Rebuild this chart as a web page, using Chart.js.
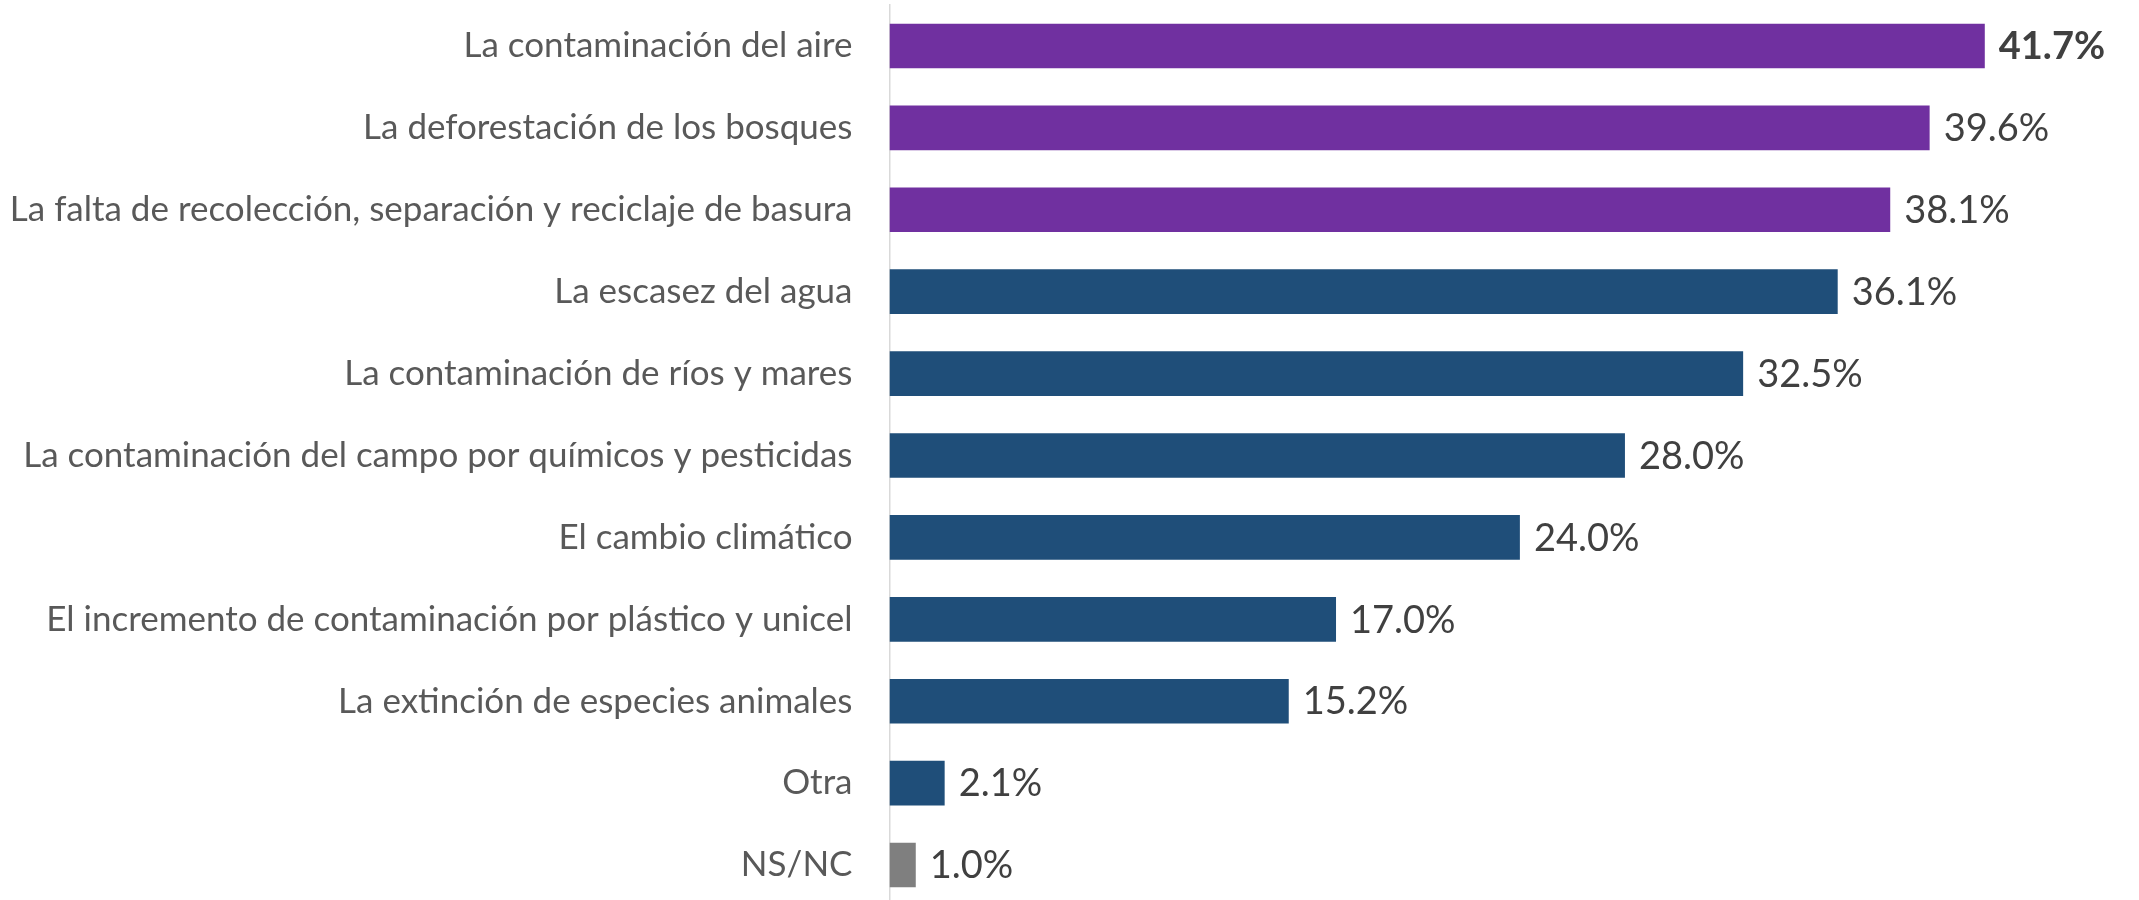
<!DOCTYPE html>
<html>
<head>
<meta charset="utf-8">
<script src="https://cdn.jsdelivr.net/npm/chart.js@4"></script>
<style>
  html, body { margin: 0; padding: 0; background: #fff; overflow: hidden; }
  #wrap { width: 2139px; height: 906px; position: relative; }
</style>
</head>
<body>
<div id="wrap"><canvas id="chart"></canvas></div>
<script>
// categories (top to bottom)
const categories = [
  'La contaminación del aire',
  'La deforestación de los bosques',
  'La falta de recolección, separación y reciclaje de basura',
  'La escasez del agua',
  'La contaminación de ríos y mares',
  'La contaminación del campo por químicos y pesticidas',
  'El cambio climático',
  'El incremento de contaminación por plástico y unicel',
  'La extinción de especies animales',
  'Otra',
  'NS/NC'
];
const values = [41.7, 39.6, 38.1, 36.1, 32.5, 28.0, 24.0, 17.0, 15.2, 2.1, 1.0];
const barColors = ['#7030A0', '#7030A0', '#7030A0',
  '#1F4E79', '#1F4E79', '#1F4E79', '#1F4E79', '#1F4E79', '#1F4E79', '#1F4E79',
  '#7F7F7F'];

const FONT = 'Lato, "Open Sans", sans-serif';

// value labels at the end of each bar
const valueLabels = {
  id: 'valueLabels',
  afterDatasetsDraw(chart) {
    const ctx = chart.ctx;
    const meta = chart.getDatasetMeta(0);
    ctx.save();
    ctx.textBaseline = 'middle';
    ctx.textAlign = 'left';
    ctx.fillStyle = '#404040';
    meta.data.forEach((bar, i) => {
      ctx.font = (i === 0 ? 'bold ' : '') + '38px ' + FONT;
      ctx.fillText(values[i].toFixed(1) + '%', bar.x + 14, bar.y + 1);
    });
    ctx.restore();
  }
};

new Chart(document.getElementById('chart'), {
  type: 'bar',
  data: {
    labels: categories,
    datasets: [{
      data: values,
      backgroundColor: barColors,
      barPercentage: 0.545,
      categoryPercentage: 1.0
    }]
  },
  options: {
    indexAxis: 'y',
    responsive: true,
    maintainAspectRatio: false,
    animation: false,
    layout: { padding: { top: 5, right: 15, bottom: 0, left: 0 } },
    plugins: {
      legend: { display: false },
      tooltip: { enabled: false }
    },
    scales: {
      x: {
        display: false,
        min: 0,
        max: 47
      },
      y: {
        grid: { display: false, drawTicks: false },
        border: { display: true, color: '#D9D9D9', width: 1.5 },
        ticks: {
          color: '#595959',
          padding: 37,
          font: { family: FONT, size: 35 }
        },
        afterFit(scale) {
          scale.width = 889.5;
          // no extra room above/below for the labels
          scale.paddingTop = 0;
          scale.paddingBottom = 0;
        }
      }
    }
  },
  plugins: [valueLabels]
});
</script>
</body>
</html>
